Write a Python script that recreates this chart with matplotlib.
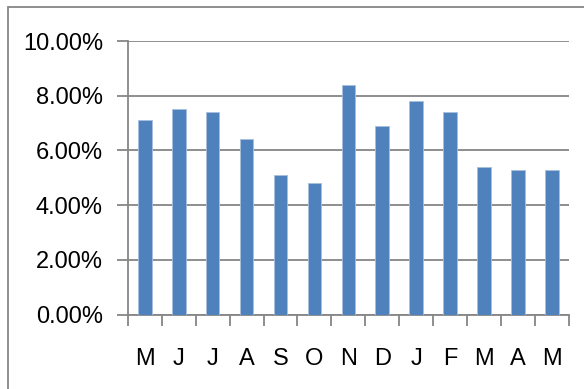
import matplotlib.pyplot as plt
import numpy as np
from matplotlib.patches import Rectangle
from matplotlib.ticker import FuncFormatter, MultipleLocator

# Monthly rates, in percent
months = ['M', 'J', 'J', 'A', 'S', 'O', 'N', 'D', 'J', 'F', 'M', 'A', 'M']
rates = [7.1, 7.5, 7.4, 6.4, 5.1, 4.8, 8.4, 6.9, 7.8, 7.4, 5.4, 5.3, 5.3]

bar_color = '#4F81BD'
line_color = '#868686'

plt.rcParams['font.family'] = ['Liberation Sans', 'DejaVu Sans']

fig = plt.figure(figsize=(5.84, 3.89), dpi=100)
ax = fig.add_axes([0.219, 0.1915, 0.755, 0.703])

# Chart area border, open at the right and bottom edges
fig.patches.append(Rectangle((8 / 584, -0.1), 2, 1.1 - 7 / 389,
                             transform=fig.transFigure, fill=False,
                             edgecolor=line_color, linewidth=1.3))

x = np.arange(len(months))
ax.bar(x, rates, width=0.4, color=bar_color, edgecolor='#A7C0DE',
       linewidth=0.6, zorder=3)

ax.set_xlim(-0.5, len(months) - 0.5)
ax.set_ylim(0, 10)
ax.yaxis.set_major_locator(MultipleLocator(2))
ax.yaxis.set_major_formatter(FuncFormatter(lambda v, _: f'{v:.2f}%'))
ax.grid(axis='y', color=line_color, linewidth=1.3, zorder=0)

# Category ticks sit on the boundaries between months
ax.set_xticks(np.arange(-0.5, len(months)), minor=False)
ax.set_xticklabels([])
ax.set_xticks(x, minor=True)
ax.set_xticklabels(months, minor=True)
ax.tick_params(axis='x', which='major', direction='out', length=8,
               width=1.3, color=line_color)
ax.tick_params(axis='x', which='minor', length=0, pad=24, labelsize=17)
ax.tick_params(axis='y', direction='out', length=8, width=1.3,
               color=line_color, pad=10, labelsize=17)

for side in ['top', 'right']:
    ax.spines[side].set_visible(False)
for side in ['left', 'bottom']:
    ax.spines[side].set_color(line_color)
    ax.spines[side].set_linewidth(1.3)

fig.savefig('out.png', dpi=100)
